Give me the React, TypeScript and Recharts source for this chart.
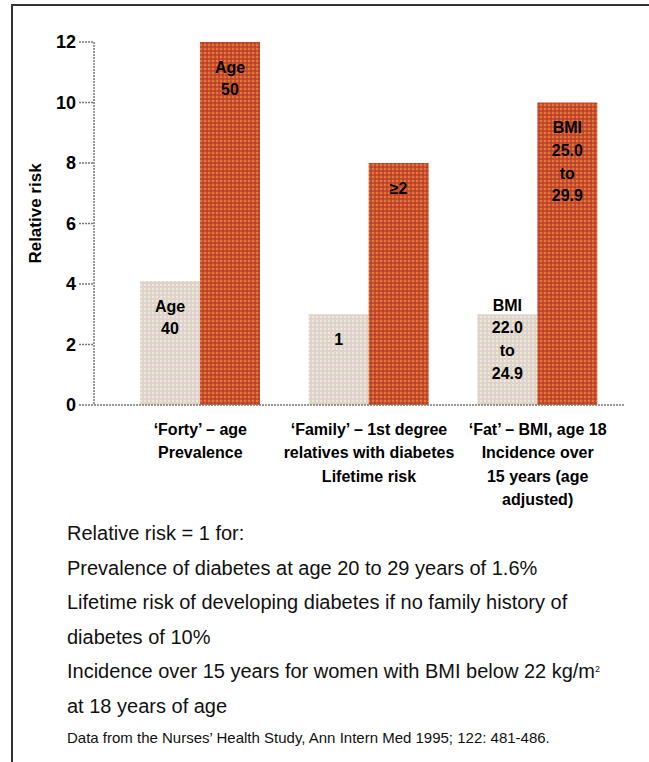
import { BarChart, Bar, XAxis, YAxis, LabelList } from 'recharts';

const categories = [
  '‘Forty’ – age\nPrevalence',
  '‘Family’ – 1st degree\nrelatives with diabetes\nLifetime risk',
  '‘Fat’ – BMI, age 18\nIncidence over\n15 years (age\nadjusted)',
];
const referenceRisk = [4.1, 3, 3];
const raisedRisk = [12, 8, 10];
const referenceLabels = ['Age\n40', '1', 'BMI\n22.0\nto\n24.9'];
const raisedLabels = ['Age\n50', '≥2', 'BMI\n25.0\nto\n29.9'];
const yTicks = [0, 2, 4, 6, 8, 10, 12];

const notes = [
  'Relative risk = 1 for:',
  'Prevalence of diabetes at age 20 to 29 years of 1.6%',
  'Lifetime risk of developing diabetes if no family history of',
  'diabetes of 10%',
  'Incidence over 15 years for women with BMI below 22 kg/m²',
  'at 18 years of age',
];
const source = 'Data from the Nurses’ Health Study, Ann Intern Med 1995; 122: 481-486.';

const data = categories.map((name, i) => ({
  name,
  reference: referenceRisk[i],
  raised: raisedRisk[i],
  referenceLabel: referenceLabels[i],
  raisedLabel: raisedLabels[i],
}));

const FONT = '"Liberation Sans", Arial, Helvetica, sans-serif';
const AXIS = '#777';

function BarText(props: any) {
  const { x, y, width, height, value } = props;
  const lines = String(value).split('\n');
  const cx = x + width / 2;
  const lh = 22.7;
  let first = y + 25;
  const last = first + (lines.length - 1) * lh;
  const limit = y + height - 32;
  if (last > limit) first -= last - limit;
  return (
    <text textAnchor='middle' fontFamily={FONT} fontSize={16} fontWeight='bold' fill='#000'>
      {lines.map((l, i) => (
        <tspan key={i} x={cx} y={first + i * lh} dy='0.35em'>
          {l}
        </tspan>
      ))}
    </text>
  );
}

function CategoryTick(props: any) {
  const { x, y, payload } = props;
  const lines = String(payload.value).split('\n');
  return (
    <text textAnchor='middle' fontFamily={FONT} fontSize={16} fontWeight='bold' fill='#000'>
      {lines.map((l, i) => (
        <tspan key={i} x={x} y={y + 24 + i * 23.5} dy='0.35em'>
          {l}
        </tspan>
      ))}
    </text>
  );
}

function YTitle(props: any) {
  const { viewBox } = props;
  const cx = viewBox.x + 35;
  const cy = viewBox.y + viewBox.height / 2 - 10;
  return (
    <text
      transform={`translate(${cx},${cy}) rotate(-90)`}
      textAnchor='middle'
      dy='0.35em'
      fontFamily={FONT}
      fontSize={17}
      fontWeight='bold'
      fill='#000'
    >
      Relative risk
    </text>
  );
}

export default function App() {
  return (
    <div style={{ position: 'absolute', left: 0, top: 0, width: 649, height: 762, background: '#fff', overflow: 'hidden' }}>
      <div
        style={{
          position: 'absolute',
          left: 11,
          top: 4,
          width: 640,
          height: 760,
          borderTop: '2px solid #333',
          borderLeft: '2px solid #333',
        }}
      />
      <div style={{ position: 'absolute', left: 0, top: 0 }}>
        <BarChart
          width={649}
          height={520}
          data={data}
          margin={{ top: 42, right: 24, bottom: 0, left: 0 }}
          barGap={0}
          barCategoryGap={24}
        >
          <defs>
            <pattern id='dotsLight' width='4' height='4' patternUnits='userSpaceOnUse'>
              <rect width='4' height='4' fill='#d8d5d2' />
              <circle cx='1' cy='1' r='0.9' fill='#f8f5cc' />
              <circle cx='3' cy='3' r='0.9' fill='#f0cac8' />
            </pattern>
            <pattern id='dotsRed' width='4' height='4' patternUnits='userSpaceOnUse'>
              <rect width='4' height='4' fill='#c94e2e' />
              <circle cx='1' cy='1' r='1' fill='#e6873a' />
              <circle cx='3' cy='3' r='1' fill='#b53e2c' />
            </pattern>
          </defs>
          <XAxis
            dataKey='name'
            height={115}
            padding={{ left: 22, right: 3 }}
            tickSize={0}
            tickMargin={0}
            tickLine={false}
            axisLine={{ stroke: AXIS, strokeWidth: 1.5, strokeDasharray: '2 1' }}
            tick={<CategoryTick />}
            interval={0}
          />
          <YAxis
            width={94}
            domain={[0, 12]}
            ticks={yTicks}
            tickSize={15}
            tickMargin={3}
            axisLine={{ stroke: AXIS, strokeWidth: 1.5, strokeDasharray: '2 1' }}
            tickLine={{ stroke: AXIS, strokeWidth: 1.5, strokeDasharray: '2 1' }}
            tick={{ fill: '#000', fontSize: 18, fontWeight: 'bold', fontFamily: FONT }}
            label={{ content: <YTitle /> }}
          />
          <Bar dataKey='reference' fill='url(#dotsLight)' isAnimationActive={false}>
            <LabelList dataKey='referenceLabel' content={<BarText />} />
          </Bar>
          <Bar dataKey='raised' fill='url(#dotsRed)' isAnimationActive={false}>
            <LabelList dataKey='raisedLabel' content={<BarText />} />
          </Bar>
        </BarChart>
      </div>
      <div
        style={{
          position: 'absolute',
          left: 67,
          top: 516,
          fontFamily: FONT,
          fontSize: 20,
          lineHeight: '34.5px',
          color: '#111',
          whiteSpace: 'nowrap',
        }}
      >
        {notes.map((n, i) => (
          <div key={i}>
            {n.endsWith('kg/m²') ? (
              <>
                {n.slice(0, -1)}
                <sup style={{ fontSize: 9, verticalAlign: 'top', lineHeight: '30px' }}>2</sup>
              </>
            ) : (
              n
            )}
          </div>
        ))}
        <div style={{ fontSize: 15, lineHeight: '30px' }}>{source}</div>
      </div>
    </div>
  );
}
